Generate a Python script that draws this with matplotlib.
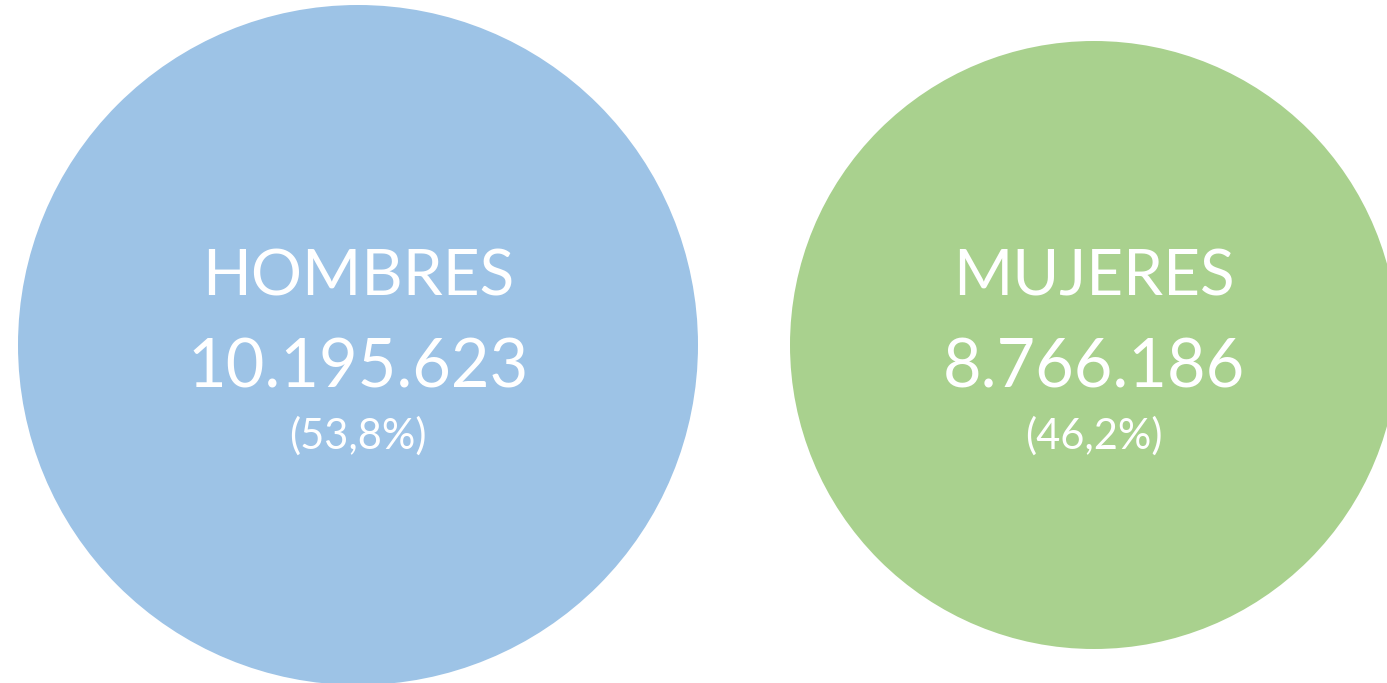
import matplotlib.pyplot as plt
from matplotlib.patches import Circle

plt.rcParams['font.family'] = ['Lato', 'DejaVu Sans']

# datos
grupos = ['HOMBRES', 'MUJERES']
poblacion = [10195623, 8766186]
porcentajes = [53.8, 46.2]
colores = ['#9DC3E6', '#A9D18E']

# disposición (px)
centros_x = [358, 1094]
centro_y = 345
radios = [340, 304]


def miles(n):
    return f"{n:,}".replace(',', '.')


fig = plt.figure(figsize=(13.87, 6.83), dpi=100)
ax = fig.add_axes([0, 0, 1, 1])
ax.set_xlim(0, 1387)
ax.set_ylim(683, 0)
ax.set_aspect('equal')
ax.axis('off')

for i, nombre in enumerate(grupos):
    cx = centros_x[i]
    ax.add_patch(Circle((cx, centro_y), radios[i], facecolor=colores[i],
                        edgecolor='none'))
    ax.text(cx, 296, nombre, color='white', fontsize=46,
            ha='center', va='baseline')
    ax.text(cx, 387, miles(poblacion[i]), color='white', fontsize=48,
            ha='center', va='baseline')
    pct = f"({porcentajes[i]:.1f}%)".replace('.', ',')
    ax.text(cx, 449, pct, color='white', fontsize=30,
            ha='center', va='baseline')

fig.savefig('out.png', dpi=100)
